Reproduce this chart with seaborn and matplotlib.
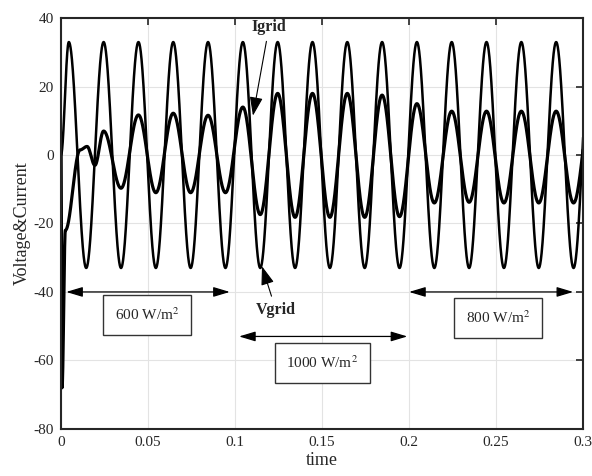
import numpy as np
import pandas as pd
import matplotlib
matplotlib.use("Agg")
import matplotlib.pyplot as plt
import seaborn as sns

# Extrema of the waveforms (time in s, value)
vgrid_t = [0.0, 0.0045, 0.0145, 0.0245, 0.0345, 0.0445, 0.0545, 0.0645, 0.0745,
           0.0845, 0.0945, 0.1045, 0.1145, 0.1245, 0.1345, 0.1445, 0.1545, 0.1645,
           0.1745, 0.1845, 0.1945, 0.2045, 0.2145, 0.2245, 0.2345, 0.2445, 0.2545,
           0.2645, 0.2745, 0.2845, 0.2945, 0.3045]
vgrid_v = [0, 33, -33, 33, -33, 33, -33, 33, -33,
           33, -33, 33, -33, 33, -33, 33, -33, 33,
           -33, 33, -33, 33, -33, 33, -33, 33, -33,
           33, -33, 33, -33, 33]

igrid_t = [0.0, 0.0006, 0.0025, 0.0110, 0.0150, 0.0195, 0.0245, 0.0345, 0.0445,
           0.0545, 0.0645, 0.0745, 0.0845, 0.0945, 0.1045, 0.1145, 0.1245, 0.1345,
           0.1445, 0.1545, 0.1645, 0.1745, 0.1845, 0.1945, 0.2045, 0.2145, 0.2245,
           0.2345, 0.2445, 0.2545, 0.2645, 0.2745, 0.2845, 0.2945, 0.3045]
igrid_v = [5, -68, -22, 1.5, 2.5, -3, 7, -9.7, 11.7,
           -11, 12.2, -11, 11.6, -11, 14, -17.4, 18, -18.2,
           18, -18.2, 18, -18.2, 17.5, -18, 15, -14, 12.8,
           -13.8, 12.8, -14, 12.8, -14, 12.8, -14, 12.8]

xticks = [0, 0.05, 0.1, 0.15, 0.2, 0.25, 0.3]
xtick_labels = ["0", "0.05", "0.1", "0.15", "0.2", "0.25", "0.3"]
yticks = [-80, -60, -40, -20, 0, 20, 40]

# irradiance steps: arrow span, arrow level, label and its position
irr_labels = ["600 W/m$^2$", "1000 W/m$^2$", "800 W/m$^2$"]
irr_start = [0.003, 0.1023, 0.2]
irr_end = [0.097, 0.199, 0.2943]
irr_level = [-40, -53, -40]
irr_text_x = [0.0495, 0.150, 0.251]
irr_text_y = [-46.7, -60.7, -47.6]


def smooth_wave(knot_t, knot_v, t):
    # half-cosine between successive extrema, so the trace looks like the scope
    knot_t = np.asarray(knot_t)
    knot_v = np.asarray(knot_v, dtype=float)
    idx = np.clip(np.searchsorted(knot_t, t, side="right") - 1, 0, len(knot_t) - 2)
    t0, t1 = knot_t[idx], knot_t[idx + 1]
    v0, v1 = knot_v[idx], knot_v[idx + 1]
    s = (t - t0) / (t1 - t0)
    return v0 + (v1 - v0) * (1 - np.cos(np.pi * s)) / 2


t = np.linspace(0, 0.3, 4001)
df = pd.DataFrame({
    "time": t,
    "Vgrid": smooth_wave(vgrid_t, vgrid_v, t),
    "Igrid": smooth_wave(igrid_t, igrid_v, t),
})

sns.set_style("whitegrid")
plt.rcParams["font.family"] = ["Liberation Serif", "DejaVu Serif"]
plt.rcParams["mathtext.fontset"] = "stix"
plt.rcParams["axes.unicode_minus"] = False

fig, ax = plt.subplots(figsize=(5.92, 4.76), dpi=100)
fig.subplots_adjust(left=0.103, right=0.985, top=0.962, bottom=0.099)

sns.lineplot(data=df, x="time", y="Vgrid", color="black", linewidth=1.8,
             estimator=None, ax=ax)
sns.lineplot(data=df, x="time", y="Igrid", color="black", linewidth=2.3,
             estimator=None, ax=ax)

ax.set_xlim(0, 0.3)
ax.set_ylim(-80, 40)
ax.set_xticks(xticks)
ax.set_xticklabels(xtick_labels)
ax.set_yticks(yticks)
ax.set_xlabel("time", fontsize=13, color="#262626", labelpad=2)
ax.set_ylabel("Voltage&Current", fontsize=13, color="#262626", labelpad=2)
ax.tick_params(direction="in", length=5, width=1.2, top=True, right=True,
               labelsize=11, labelcolor="#262626", color="#262626", pad=5)
ax.grid(True, color="#e3e3e3", linewidth=0.8)
for sp in ax.spines.values():
    sp.set_color("#262626")
    sp.set_linewidth(1.5)

# signal labels
ax.annotate("Igrid", xy=(0.1103, 11.5), xytext=(0.1195, 37.3),
            ha="center", va="center", fontsize=11.5, fontweight="bold",
            arrowprops=dict(arrowstyle="-|>,head_length=1.0,head_width=0.35",
                            color="black", lw=0.8, shrinkA=2, shrinkB=0))
ax.annotate("Vgrid", xy=(0.1155, -32.5), xytext=(0.1235, -45.3),
            ha="center", va="center", fontsize=11.5, fontweight="bold",
            arrowprops=dict(arrowstyle="-|>,head_length=1.0,head_width=0.35",
                            color="black", lw=0.8, shrinkA=2, shrinkB=0))

# irradiance intervals
for lab, x0, x1, lev, tx, ty in zip(irr_labels, irr_start, irr_end, irr_level,
                                    irr_text_x, irr_text_y):
    ax.annotate("", xy=(x0, lev), xytext=(x1, lev),
                arrowprops=dict(arrowstyle="<|-|>,head_length=1.0,head_width=0.3",
                                color="black", lw=0.9, shrinkA=0, shrinkB=0))
    ax.text(tx, ty, lab, ha="center", va="center", fontsize=11,
            bbox=dict(boxstyle="square,pad=0.75", fc="white", ec="#333333", lw=1))

plt.savefig("out.png", dpi=100)
